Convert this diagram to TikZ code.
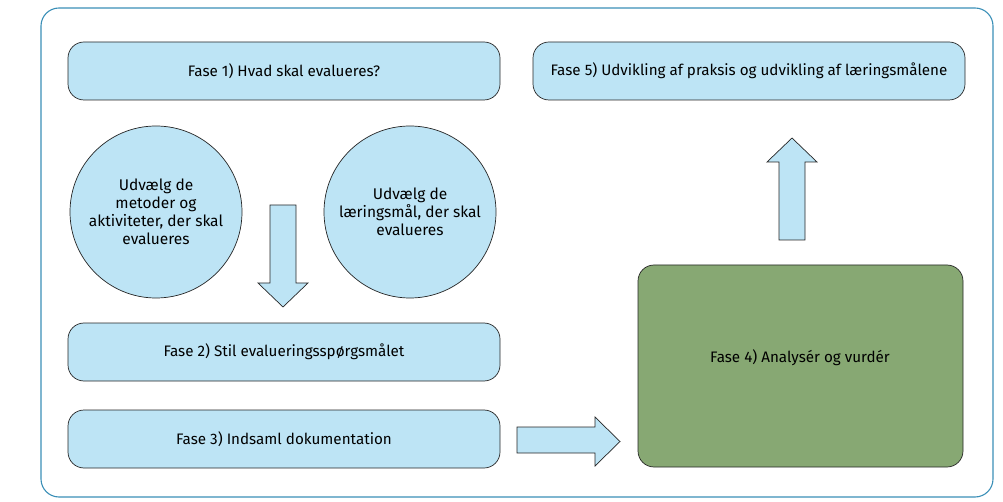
\documentclass[tikz,border=0pt]{standalone}
\usepackage{fontspec}
\setmainfont{Fira Sans}
\definecolor{lb}{HTML}{BDE4F5}
\definecolor{gr}{HTML}{87A873}
\definecolor{frame}{HTML}{3A8FB7}
\begin{document}
\begin{tikzpicture}[x=1pt,y=-1pt,
  phase/.style={draw=black!85,line width=0.7pt,fill=lb,rounded corners=16pt},
  circ/.style={circle,draw=black!85,line width=0.7pt,fill=lb,minimum size=172pt,inner sep=0pt,align=center,font=\fontsize{15.5}{18}\selectfont},
  lbl/.style={font=\fontsize{15.2}{18}\selectfont},
  blockarrow/.style={draw=black!85,line width=0.7pt,fill=lb}]
\useasboundingbox (0,0) rectangle (1003,502);
\draw[frame,line width=1.1pt,rounded corners=18pt] (41,8) rectangle (993,497);
% phase boxes
\draw[phase] (68,42) rectangle (500,100);
\node[lbl] (f1) at (284,71) {Fase 1) Hvad skal evalueres?};
\draw[phase] (533,42) rectangle (965,100);
\node[lbl] (f5) at (749,71) {Fase 5) Udvikling af praksis og udvikling af læringsmålene};
\draw[phase] (68,323) rectangle (500,381);
\node[lbl] (f2) at (284,352) {Fase 2) Stil evalueringsspørgsmålet};
\draw[phase] (68,410) rectangle (500,468);
\node[lbl] (f3) at (284,439) {Fase 3) Indsaml dokumentation};
\draw[phase,fill=gr] (638,265) rectangle (963,467);
\node[lbl] (f4) at (800,358) {Fase 4) Analysér og vurdér};
% circles
\node[circ] (c1) at (156,212) {Udvælg de\\metoder og\\aktiviteter, der skal\\evalueres};
\node[circ] (c2) at (410,212) {Udvælg de\\læringsmål, der skal\\evalueres};
% down arrow
\draw[blockarrow] (270,205) -- (296,205) -- (296,283) -- (308,283) -- (283,307) -- (258,283) -- (270,283) -- cycle;
% right arrow
\draw[blockarrow] (517,427) -- (595,427) -- (595,417) -- (620,441.5) -- (595,466) -- (595,453) -- (517,453) -- cycle;
% up arrow
\draw[blockarrow] (779,240) -- (779,162) -- (767,162) -- (792,138) -- (817,162) -- (805,162) -- (805,240) -- cycle;
\end{tikzpicture}
\end{document}
